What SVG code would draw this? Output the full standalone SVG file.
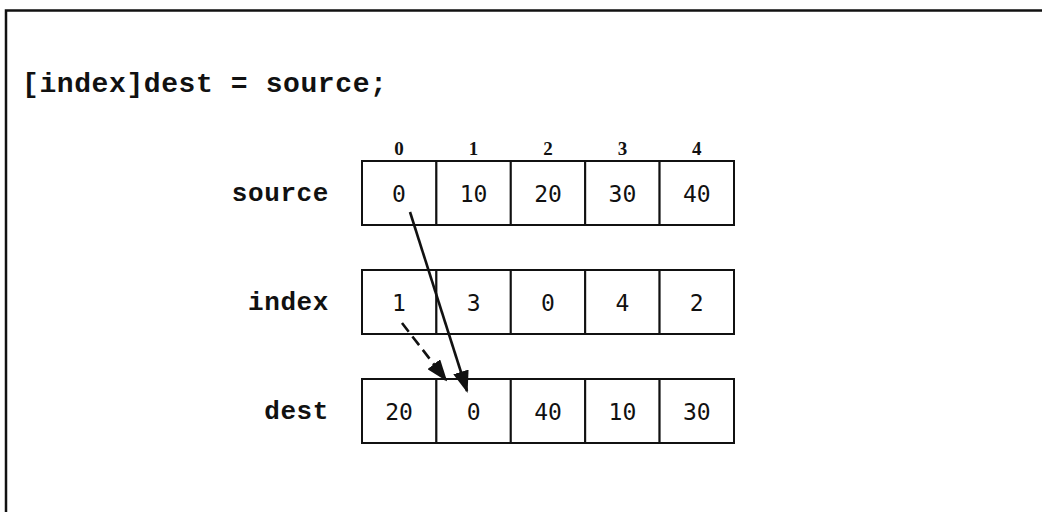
<svg xmlns="http://www.w3.org/2000/svg" width="1042" height="512" viewBox="0 0 1042 512">
<style>
.frame{fill:none;stroke:#111;stroke-width:2.5}
.cell{fill:#fff;stroke:#111;stroke-width:2}
.code{font-family:"Liberation Mono","DejaVu Sans Mono",monospace;font-weight:bold;font-size:28px;letter-spacing:0.6px;fill:#111}
.lbl{font-family:"Liberation Mono","DejaVu Sans Mono",monospace;font-weight:bold;font-size:26px;letter-spacing:0.6px;fill:#111;text-anchor:end}
.idx{font-family:"Liberation Serif","DejaVu Serif",serif;font-weight:bold;font-size:19px;fill:#111;text-anchor:middle}
.val{font-family:"DejaVu Sans Mono","Liberation Mono",monospace;font-size:23px;fill:#111;text-anchor:middle}
.arr{fill:none;stroke:#111;stroke-width:2.6}
.dash{stroke-dasharray:11 6}
</style>
<defs>
<marker id="ah" viewBox="0 0 22 16" refX="20" refY="8" markerWidth="22" markerHeight="16" markerUnits="userSpaceOnUse" orient="auto">
<path d="M0,0 L22,8 L0,16 z" fill="#111"/>
</marker>
</defs>
<path class="frame" d="M6 512 V10.5 H1042"/>
<text class="code" x="22" y="92">[index]dest = source;</text>
<g id="col-indices">
<text class="idx" x="399" y="155">0</text>
<text class="idx" x="473.6" y="155">1</text>
<text class="idx" x="548" y="155">2</text>
<text class="idx" x="622.4" y="155">3</text>
<text class="idx" x="696.8" y="155">4</text>
</g>
<g id="source">
<text class="lbl" x="329" y="201">source</text>
<rect class="cell" x="362" y="161" width="74.4" height="64"/>
<rect class="cell" x="436.4" y="161" width="74.4" height="64"/>
<rect class="cell" x="510.8" y="161" width="74.4" height="64"/>
<rect class="cell" x="585.2" y="161" width="74.4" height="64"/>
<rect class="cell" x="659.6" y="161" width="74.4" height="64"/>
<text class="val" x="399" y="202">0</text>
<text class="val" x="473.6" y="202">10</text>
<text class="val" x="548" y="202">20</text>
<text class="val" x="622.4" y="202">30</text>
<text class="val" x="696.8" y="202">40</text>
</g>
<g id="index">
<text class="lbl" x="329" y="310">index</text>
<rect class="cell" x="362" y="270" width="74.4" height="64"/>
<rect class="cell" x="436.4" y="270" width="74.4" height="64"/>
<rect class="cell" x="510.8" y="270" width="74.4" height="64"/>
<rect class="cell" x="585.2" y="270" width="74.4" height="64"/>
<rect class="cell" x="659.6" y="270" width="74.4" height="64"/>
<text class="val" x="399" y="311">1</text>
<text class="val" x="473.6" y="311">3</text>
<text class="val" x="548" y="311">0</text>
<text class="val" x="622.4" y="311">4</text>
<text class="val" x="696.8" y="311">2</text>
</g>
<g id="dest">
<text class="lbl" x="329" y="419">dest</text>
<rect class="cell" x="362" y="379" width="74.4" height="64"/>
<rect class="cell" x="436.4" y="379" width="74.4" height="64"/>
<rect class="cell" x="510.8" y="379" width="74.4" height="64"/>
<rect class="cell" x="585.2" y="379" width="74.4" height="64"/>
<rect class="cell" x="659.6" y="379" width="74.4" height="64"/>
<text class="val" x="399" y="420">20</text>
<text class="val" x="473.6" y="420">0</text>
<text class="val" x="548" y="420">40</text>
<text class="val" x="622.4" y="420">10</text>
<text class="val" x="696.8" y="420">30</text>
</g>
<g id="connectors">
<path class="arr" d="M410 212 L467 391" marker-end="url(#ah)"/>
<path class="arr dash" d="M402 323 L446 380" marker-end="url(#ah)"/>
</g>
</svg>
